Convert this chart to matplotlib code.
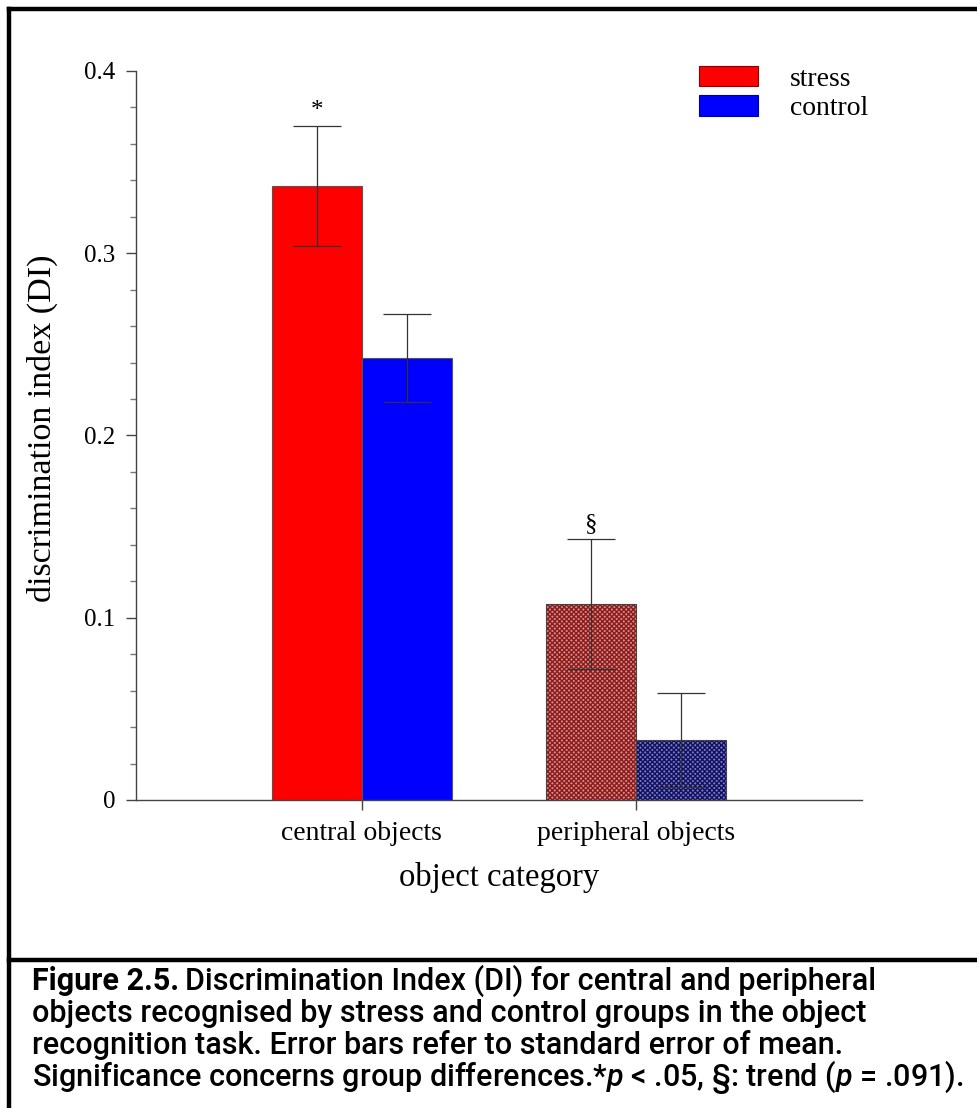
import numpy as np
import matplotlib.pyplot as plt
from matplotlib.lines import Line2D
from matplotlib.ticker import MultipleLocator

categories = ['central objects', 'peripheral objects']
groups = ['stress', 'control']
stress_mean = [0.337, 0.1075]
stress_se = [0.0330, 0.0356]
control_mean = [0.2425, 0.033]
control_se = [0.024, 0.0258]
markers_sig = ['*', '§']

serif = ['Liberation Serif', 'DejaVu Serif']
plt.rcParams['font.family'] = serif
plt.rcParams['mathtext.fontset'] = 'custom'
plt.rcParams['mathtext.it'] = 'Roboto:italic:medium'

fig = plt.figure(figsize=(9.78, 11.08), dpi=100)
ax = fig.add_axes([0.139, 0.278, 0.742, 0.658])

x = np.arange(1, len(categories) + 1)
w = 0.328

# central bars plain, peripheral bars hatched
face_s = ['#ff0000', '#d88888']
face_c = ['#0000ff', '#7676cc']
hatch_s = [None, '#8a1c1c']
hatch_c = [None, '#12125c']
for i in range(len(categories)):
    for xpos, val, fc, hc in [(x[i] - w / 2, stress_mean[i], face_s[i], hatch_s[i]),
                              (x[i] + w / 2, control_mean[i], face_c[i], hatch_c[i])]:
        if hc is None:
            ax.bar(xpos, val, w, color=fc, edgecolor='#555555', linewidth=0.8, zorder=2)
        else:
            ax.bar(xpos, val, w, color=fc, edgecolor=hc, hatch='xxxxxxx', linewidth=0, zorder=2)
            ax.bar(xpos, val, w, fill=False, edgecolor='#444444', linewidth=0.8, zorder=3)

ax.errorbar(x - w / 2, stress_mean, yerr=stress_se, fmt='none', ecolor='#333333',
            elinewidth=0.9, capsize=17, capthick=0.9, zorder=4)
ax.errorbar(x + w / 2, control_mean, yerr=control_se, fmt='none', ecolor='#333333',
            elinewidth=0.9, capsize=17, capthick=0.9, zorder=4)

for i, m in enumerate(markers_sig):
    ax.text(x[i] - w / 2, stress_mean[i] + stress_se[i] + 0.002, m, ha='center',
            va='bottom', fontsize=18)

ax.set_xlim(0.175, 2.825)
ax.set_ylim(0, 0.4)
ax.set_xticks(x)
ax.set_xticklabels(categories, fontsize=20)
ax.set_yticks([0, 0.1, 0.2, 0.3, 0.4])
ax.set_yticklabels(['0', '0.1', '0.2', '0.3', '0.4'], fontsize=18)
ax.yaxis.set_minor_locator(MultipleLocator(0.02))
ax.tick_params(axis='both', which='major', direction='out', length=7, width=1,
               color='#444444', pad=8)
ax.tick_params(axis='y', which='minor', direction='out', length=4, width=1, color='#777777')
ax.set_xlabel('object category', fontsize=23.5, labelpad=12)
ax.set_ylabel('discrimination index (DI)', fontsize=24.5)
ax.yaxis.set_label_coords(-0.107, 0.51)
for s in ['top', 'right']:
    ax.spines[s].set_visible(False)
for s in ['left', 'bottom']:
    ax.spines[s].set_color('#444444')
    ax.spines[s].set_linewidth(1)

handles = [plt.Rectangle((0, 0), 1, 1, facecolor='#ff0000', edgecolor='#8b0000', linewidth=0.8),
           plt.Rectangle((0, 0), 1, 1, facecolor='#0000ff', edgecolor='#00008b', linewidth=0.8)]
ax.legend(handles, groups, loc='upper left', bbox_to_anchor=(0.76, 1.022), frameon=False,
          fontsize=20, handlelength=2.15, handleheight=0.75, handletextpad=1.15,
          labelspacing=0.12, borderaxespad=0)

# border lines
W, H = 978, 1108
fig.add_artist(Line2D([9 / W, 9 / W], [0, 1 - 9 / H], color='black', lw=3.2,
                      transform=fig.transFigure))
fig.add_artist(Line2D([9 / W, 1], [1 - 9 / H, 1 - 9 / H], color='black', lw=3.2,
                      transform=fig.transFigure))
fig.add_artist(Line2D([9 / W, 1], [1 - 960 / H, 1 - 960 / H], color='black', lw=3.2,
                      transform=fig.transFigure))

cap_font = ['Roboto', 'DejaVu Sans']
cap_size = 22
cap_lines = ['objects recognised by stress and control groups in the object',
             'recognition task. Error bars refer to standard error of mean.']
t0 = fig.text(32 / W, 1 - 981 / H, 'Figure 2.5.', fontsize=cap_size, fontweight='bold',
              family=cap_font, va='center')
r = fig.canvas.get_renderer()
bb = t0.get_window_extent(renderer=r)
fig.text(bb.x1 / W + 6 / W, 1 - 981 / H, 'Discrimination Index (DI) for central and peripheral',
         fontsize=cap_size, fontweight='medium', family=cap_font, va='center')
for k, line in enumerate(cap_lines):
    fig.text(32 / W, 1 - (1013 + 32 * k) / H, line, fontsize=cap_size, fontweight='medium',
             family=cap_font, va='center')
fig.text(32 / W, 1 - 1077 / H,
         r'Significance concerns group differences.*$p$ < .05, §: trend ($p$ = .091).',
         fontsize=cap_size, fontweight='medium', family=cap_font, va='center')

fig.savefig('out.png', dpi=100)
